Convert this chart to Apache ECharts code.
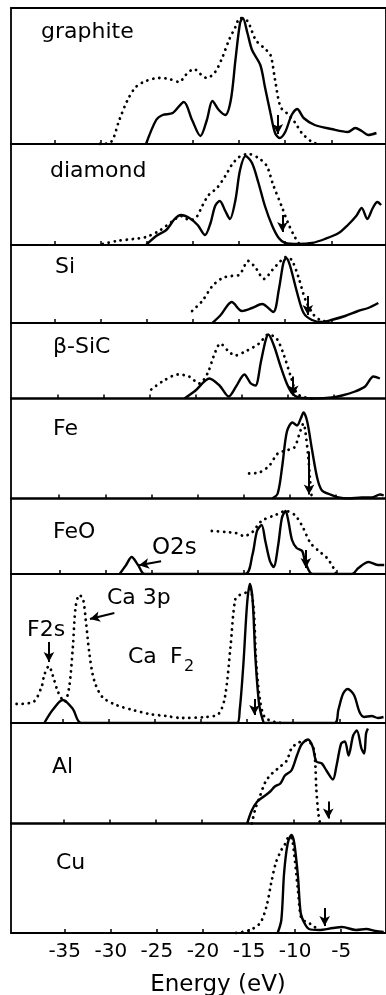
<!DOCTYPE html>
<html>
<head>
<meta charset="utf-8">
<script src="https://cdn.jsdelivr.net/npm/echarts@6/dist/echarts.min.js"></script>
<style>
  html, body { margin: 0; padding: 0; background: #fff; }
  #chart { width: 386px; height: 995px; }
</style>
</head>
<body>
<div id="chart"></div>
<script>
// spectra: [energy (eV), intensity (arb. units)]
const graphiteSolid = [[-25.1,0],[-24.0,24],[-23.3,29],[-22.2,31],[-21.0,42],[-20.1,24],[-19.2,8],[-18.5,24],[-17.9,43],[-17.2,34],[-16.5,29],[-15.9,44],[-15.4,84],[-14.9,121],[-14.6,126],[-14.1,111],[-13.6,94],[-12.7,79],[-12.2,57],[-11.6,31],[-11.1,11],[-10.6,6],[-10.0,12],[-9.3,29],[-8.7,35],[-8.0,26],[-6.8,19],[-5.0,15],[-3.2,12],[-2.4,16],[-1.7,13],[-1.0,9],[-0.1,11]];
const graphiteDotted = [[-30.1,0],[-28.9,2],[-28.0,24],[-27.1,44],[-26.2,57],[-25.1,63],[-23.7,66],[-22.6,65],[-21.5,62],[-20.8,69],[-19.9,75],[-19.2,70],[-18.5,66],[-17.6,72],[-16.8,87],[-16.1,104],[-15.4,117],[-14.9,126],[-14.1,123],[-13.2,104],[-12.3,96],[-11.6,89],[-11.1,64],[-10.5,37],[-9.6,29],[-8.9,21],[-8.2,11],[-7.1,2],[-6.4,0]];

const diamondSolid = [[-25.1,0],[-24.0,9],[-22.9,15],[-22.0,26],[-21.3,30],[-20.4,27],[-19.5,20],[-18.7,10],[-18.1,22],[-17.6,39],[-17.1,44],[-16.5,34],[-16.0,26],[-15.4,45],[-14.9,75],[-14.3,89],[-13.6,82],[-12.9,62],[-12.2,39],[-11.4,19],[-10.7,7],[-10.0,2],[-8.6,1],[-7.1,2],[-5.7,6],[-4.2,12],[-3.2,20],[-2.3,29],[-1.7,37],[-1.1,26],[-0.5,37],[0.0,43],[0.4,40]];
const diamondDotted = [[-29.8,1],[-28.3,4],[-26.5,6],[-25.1,8],[-23.7,14],[-22.2,24],[-21.3,29],[-20.4,25],[-19.7,27],[-19.0,39],[-18.3,50],[-17.4,57],[-16.5,69],[-15.8,80],[-15.0,88],[-14.0,91],[-12.9,87],[-12.0,79],[-11.3,60],[-10.4,39],[-9.6,20],[-8.9,7],[-8.4,0]];

const siSolid = [[-17.9,0],[-17.0,8],[-15.8,21],[-14.7,12],[-13.6,15],[-12.5,19],[-11.3,11],[-10.7,33],[-10.2,60],[-9.9,65],[-9.5,58],[-8.7,30],[-8.0,10],[-7.1,3],[-6.0,1],[-5.0,3],[-3.5,7],[-2.1,12],[-1.0,15],[0.1,20]];
const siDotted = [[-20.1,12],[-19.0,22],[-17.9,37],[-16.8,45],[-15.8,47],[-15.0,48],[-14.0,62],[-13.2,55],[-12.3,44],[-11.4,53],[-10.5,62],[-9.9,66],[-9.3,63],[-8.6,47],[-7.8,23],[-6.9,8],[-6.2,3],[-5.3,1]];

const sicSolid = [[-21.2,0],[-20.0,8],[-18.5,20],[-17.4,13],[-16.4,2],[-15.6,12],[-14.7,24],[-14.0,15],[-13.5,13],[-12.9,37],[-12.4,58],[-12.1,64],[-11.5,53],[-10.8,33],[-10.1,15],[-9.5,5],[-8.8,1],[-7.0,0],[-5.2,1],[-4.1,3],[-2.7,7],[-1.6,12],[-0.7,22],[0.0,20]];
const sicDotted = [[-24.8,9],[-23.6,17],[-21.9,24],[-20.7,22],[-19.6,15],[-18.7,25],[-18.0,43],[-17.3,55],[-16.5,48],[-15.7,43],[-14.6,47],[-13.1,55],[-12.1,64],[-11.2,60],[-10.4,43],[-9.7,23],[-9.0,5],[-8.1,1],[-7.0,0]];

const feSolid = [[-11.9,0],[-11.3,5],[-10.8,33],[-10.3,67],[-9.7,76],[-9.2,73],[-8.8,80],[-8.5,86],[-8.1,77],[-7.6,50],[-7.0,20],[-6.5,8],[-5.6,4],[-4.7,1],[-3.6,0],[-2.2,1],[-1.1,1],[-0.2,4],[0.2,3]];
const feDotted = [[-14.4,25],[-13.3,26],[-12.2,33],[-11.3,45],[-10.4,48],[-9.5,51],[-9.0,63],[-8.5,75],[-8.3,67],[-8.0,43],[-7.8,20],[-7.6,0]];

const feoSolid = [[-28.5,0],[-27.8,9],[-27.2,17],[-26.5,9],[-25.8,0],[-14.9,0],[-14.1,19],[-13.6,43],[-13.1,49],[-12.7,33],[-12.2,13],[-11.8,7],[-11.3,29],[-10.9,56],[-10.5,63],[-10.2,53],[-9.8,34],[-9.3,26],[-8.7,23],[-8.4,13],[-7.8,1],[-7.3,0],[-3.3,0],[-2.6,6],[-1.5,12],[-0.5,9],[0.2,9]];
const feoDotted = [[-18.5,43],[-17.0,42],[-15.9,41],[-15.0,38],[-14.1,42],[-13.1,53],[-11.6,59],[-10.5,63],[-9.5,59],[-8.7,48],[-7.8,31],[-6.9,23],[-6.0,16],[-5.3,6],[-5.0,0]];

const cafSolid = [[-37.0,0],[-36.1,13],[-35.0,23],[-33.9,14],[-33.0,0],[-16.1,0],[-15.8,13],[-15.4,59],[-15.0,119],[-14.7,139],[-14.4,123],[-14.1,66],[-13.7,19],[-13.3,3],[-13.1,0],[-5.5,0],[-5.1,13],[-4.6,29],[-4.1,34],[-3.4,28],[-2.8,11],[-2.3,6],[-1.5,7],[-0.8,5],[-0.2,6]];
const cafDotted = [[-40.0,19],[-38.2,21],[-37.3,36],[-37.0,48],[-36.5,57],[-36.1,48],[-35.5,31],[-34.8,21],[-34.3,36],[-33.9,76],[-33.6,116],[-33.2,128],[-32.8,124],[-32.5,103],[-32.1,69],[-31.6,43],[-30.7,26],[-29.2,18],[-27.4,13],[-25.6,9],[-23.8,7],[-22.1,5],[-19.5,6],[-18.1,9],[-17.4,26],[-16.8,76],[-16.3,123],[-15.8,128],[-15.0,131],[-14.7,134],[-14.3,116],[-14.0,59],[-13.6,23],[-13.1,6],[-12.0,1],[-10.9,0]];

const alSolid = [[-15.1,0],[-14.6,13],[-14.0,22],[-13.3,27],[-12.6,32],[-12.1,37],[-11.5,40],[-11.0,48],[-10.3,53],[-9.7,68],[-9.2,79],[-8.5,84],[-8.0,77],[-7.6,62],[-7.0,60],[-6.5,53],[-5.8,44],[-5.4,58],[-4.9,80],[-4.5,82],[-4.1,68],[-3.6,88],[-3.2,93],[-2.7,75],[-2.4,70],[-2.2,90],[-2.0,95]];
const alDotted = [[-14.6,0],[-14.2,15],[-13.8,25],[-13.1,42],[-12.4,50],[-11.5,57],[-10.8,63],[-10.3,75],[-9.7,80],[-9.2,82],[-8.6,83],[-7.9,75],[-7.7,58],[-7.6,35],[-7.4,12],[-7.2,0]];

const cuSolid = [[-11.9,0],[-11.5,13],[-11.2,60],[-10.8,90],[-10.4,98],[-10.1,90],[-9.7,57],[-9.4,20],[-9.0,10],[-8.5,4],[-7.4,3],[-5.9,5],[-4.9,6],[-3.4,3],[-2.3,4],[-1.3,2],[-0.4,1]];
const cuDotted = [[-16.4,0],[-14.9,3],[-13.8,10],[-13.1,27],[-12.6,50],[-12.1,70],[-11.5,83],[-11.2,87],[-10.6,97],[-10.3,93],[-9.7,43],[-9.4,17],[-9.0,12],[-8.5,10],[-7.9,6],[-7.4,4]];

// arrows: [energy, from, to]
const graphiteArrows = [[-10.8, 29, 10]];
const diamondArrows = [[-10.3, 30, 13]];
const siArrows = [[-7.55, 27, 8]];
const sicArrows = [[-9.4, 22, 3]];
const feArrows = [[-7.9, 47, 4]];
const feoArrows = [[-8.3, 24, 6]];
const cafArrows = [[-14.2, 24, 8], [-36.5, 81, 61]];
const alArrows = [[-6.3, 22, 5]];
const cuArrows = [[-6.8, 25, 7]];
// curved pointer arrows: [[E0, y0], [E1, y1]]
const o2sPointer = [[-24.0, 12.7], [-26.4, 8.7]];
const ca3pPointer = [[-29.4, 110], [-32.05, 104]];

const tickValues = [-35, -30, -25, -20, -15, -10, -5];
const axisName = 'Energy (eV)';

// panel layout (px)
const plotLeft = 11, plotWidth = 377, pxPerEv = 9.267;
const panels = [
    {top: 8,     height: 136,   tick35: 55,   solid: graphiteSolid, dotted: graphiteDotted, arrows: graphiteArrows},
    {top: 144,   height: 101,   tick35: 55,   solid: diamondSolid,  dotted: diamondDotted,  arrows: diamondArrows},
    {top: 245,   height: 78,    tick35: 55,   solid: siSolid,       dotted: siDotted,       arrows: siArrows},
    {top: 323,   height: 75.5,  tick35: 57.5, solid: sicSolid,      dotted: sicDotted,      arrows: sicArrows},
    {top: 398.5, height: 100,   tick35: 59.5, solid: feSolid,       dotted: feDotted,       arrows: feArrows},
    {top: 498.5, height: 75.5,  tick35: 60,   solid: feoSolid,      dotted: feoDotted,      arrows: feoArrows, pointer: o2sPointer},
    {top: 574,   height: 149,   tick35: 63,   solid: cafSolid,      dotted: cafDotted,      arrows: cafArrows, pointer: ca3pPointer},
    {top: 723,   height: 100.5, tick35: 64,   solid: alSolid,       dotted: alDotted,       arrows: alArrows},
    {top: 823.5, height: 109.5, tick35: 65,   solid: cuSolid,       dotted: cuDotted,       arrows: cuArrows}
];

const FONT = '"DejaVu Sans", sans-serif';
const chart = echarts.init(document.getElementById('chart'));

let grids = [], xAxes = [], yAxes = [], series = [];
panels.forEach((p, i) => {
    let xMin = -35 - (p.tick35 - plotLeft) / pxPerEv;
    let last = i === panels.length - 1;
    grids.push({
        left: plotLeft, top: p.top, width: plotWidth, height: p.height,
        show: true, borderColor: '#000', borderWidth: 1.8, backgroundColor: 'transparent'
    });
    xAxes.push({
        gridIndex: i, type: 'value', min: xMin, max: xMin + plotWidth / pxPerEv,
        axisLine: {show: false},
        splitLine: {show: false},
        axisTick: {show: true, inside: true, length: 4, customValues: tickValues, lineStyle: {color: '#000', width: 1.5}},
        axisLabel: {show: last, customValues: tickValues, margin: 9, color: '#000', fontSize: 20, fontFamily: FONT}
    });
    yAxes.push({gridIndex: i, type: 'value', min: 0, max: p.height, show: false});

    let markData = p.arrows.map(a => [{coord: [a[0], a[1]]}, {coord: [a[0], a[2]]}]);
    if (p.pointer) {
        markData.push([{coord: p.pointer[0], lineStyle: {curveness: 0.35}}, {coord: p.pointer[1]}]);
    }
    series.push({
        type: 'line', xAxisIndex: i, yAxisIndex: i, data: p.solid,
        showSymbol: false, symbol: 'none', smooth: 0.3, z: 3,
        lineStyle: {color: '#000', width: 2.4},
        markLine: {
            silent: true, animation: false, symbol: ['none', 'arrow'], symbolSize: [8, 10],
            label: {show: false},
            lineStyle: {color: '#000', width: 2, type: 'solid'},
            data: markData
        }
    });
    series.push({
        type: 'line', xAxisIndex: i, yAxisIndex: i, data: p.dotted,
        showSymbol: false, symbol: 'none', smooth: 0.3, z: 2,
        lineStyle: {color: '#000', width: 2.8, type: [0.1, 6], cap: 'round'}
    });
});

// panel labels
function label(text, x, y, size) {
    return {type: 'text', x: x, y: y, z: 10, style: {text: text, font: (size || 22) + 'px ' + FONT, fill: '#000', verticalAlign: 'middle'}};
}
const graphic = [
    label('graphite', 41, 32),
    label('diamond', 50, 171),
    label('Si', 55, 267),
    label('β-SiC', 53, 347),
    label('Fe', 53, 429),
    label('FeO', 53, 532),
    label('O2s', 152, 548, 23),
    label('F2s', 27, 630),
    label('Ca 3p', 107, 598),
    label('Ca', 128, 657),
    label('F', 170, 657),
    label('2', 184, 667, 16),
    label('Al', 52, 767),
    label('Cu', 56, 863),
    {type: 'text', x: 218, y: 985, style: {text: axisName, font: '23px ' + FONT, fill: '#000', align: 'center', verticalAlign: 'middle'}}
];

chart.setOption({
    animation: false,
    grid: grids,
    xAxis: xAxes,
    yAxis: yAxes,
    series: series,
    graphic: graphic
});
</script>
</body>
</html>
